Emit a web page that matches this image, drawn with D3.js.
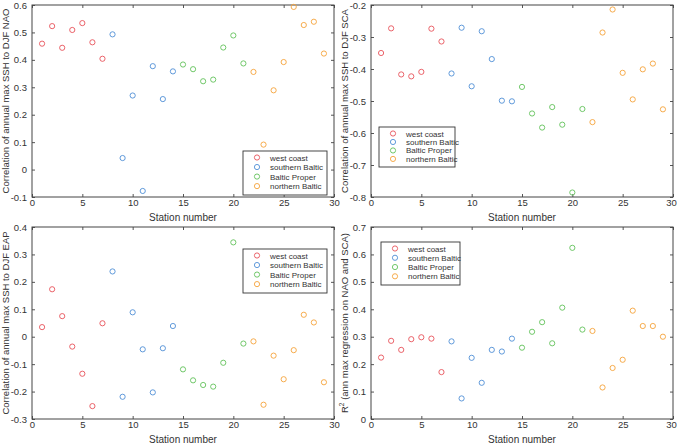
<!DOCTYPE html>
<html><head><meta charset="utf-8">
<script src="https://cdn.jsdelivr.net/npm/d3@7"></script>
<style>body{margin:0;background:#fff}svg{display:block}text{font-family:"Liberation Sans",Arial,sans-serif;fill:#333}</style>
</head><body><svg id="c" width="677" height="444"></svg>
<script>
const stations = d3.range(1, 30);
const groups = ["west coast", "southern Baltic", "Baltic Proper", "northern Baltic"];
const groupOf = [0,0,0,0,0,0,0,1,1,1,1,1,1,1,2,2,2,2,2,2,2,3,3,3,3,3,3,3,3];
const colors = ["#e8525a", "#4f8fd6", "#62c25a", "#f5a33a"];
const xTicks = [0,5,10,15,20,25,30];

const nao = [0.459,0.523,0.444,0.509,0.534,0.464,0.404,0.493,0.042,0.270,-0.078,0.377,0.257,0.358,0.383,0.366,0.322,0.328,0.445,0.489,0.387,0.356,0.091,0.289,0.392,0.593,0.527,0.539,0.423];
const sca = [-0.350,-0.273,-0.417,-0.423,-0.409,-0.274,-0.314,-0.414,-0.271,-0.454,-0.282,-0.369,-0.499,-0.501,-0.456,-0.539,-0.583,-0.519,-0.574,-0.786,-0.525,-0.566,-0.286,-0.214,-0.412,-0.495,-0.401,-0.383,-0.526];
const eap = [0.035,0.173,0.075,-0.036,-0.135,-0.253,0.049,0.238,-0.219,0.089,-0.046,-0.203,-0.042,0.039,-0.119,-0.159,-0.176,-0.182,-0.095,0.344,-0.025,-0.017,-0.248,-0.069,-0.155,-0.049,0.080,0.052,-0.166];
const r2 = [0.224,0.285,0.252,0.291,0.298,0.293,0.171,0.283,0.075,0.223,0.132,0.252,0.246,0.293,0.260,0.318,0.353,0.276,0.406,0.624,0.326,0.321,0.115,0.186,0.216,0.395,0.339,0.339,0.300];

const naoTicks = [-0.1,0,0.1,0.2,0.3,0.4,0.5,0.6];
const scaTicks = [-0.8,-0.7,-0.6,-0.5,-0.4,-0.3,-0.2];
const eapTicks = [-0.3,-0.2,-0.1,0,0.1,0.2,0.3,0.4];
const r2Ticks = [0,0.1,0.2,0.3,0.4,0.5,0.6,0.7];

const panels = [
  {vals:nao, ticks:naoTicks, dom:[-0.1,0.6], x0:32, x1:334, y0:5, y1:197, label:"Correlation of annual max SSH to DJF NAO", lx:8.5, leg:{x:243,y:151,w:84,h:44}},
  {vals:sca, ticks:scaTicks, dom:[-0.8,-0.2], x0:371, x1:673, y0:5, y1:197, label:"Correlation of annual max SSH to DJF SCA", lx:348, leg:{x:379,y:127,w:76,h:40}},
  {vals:eap, ticks:eapTicks, dom:[-0.3,0.4], x0:32, x1:334, y0:227, y1:419, label:"Correlation of annual max SSH to DJF EAP", lx:8.5, leg:{x:243,y:249,w:84,h:44}},
  {vals:r2, ticks:r2Ticks, dom:[0,0.7], x0:371, x1:673, y0:227, y1:419, label:null, lx:348, leg:{x:381,y:242,w:79,h:43}}
];

const svg = d3.select("#c");
const fmt = v => { const s = d3.format(".1f")(v).replace("\u2212","-"); return s === "0.0" || s === "-0.0" ? "0" : s; };

panels.forEach(p => {
  const x = d3.scaleLinear().domain([0,30]).range([p.x0,p.x1]);
  const y = d3.scaleLinear().domain(p.dom).range([p.y1,p.y0]);
  const g = svg.append("g");
  const axStyle = sel => { sel.select(".domain").remove(); sel.selectAll("line").attr("stroke","#555"); sel.selectAll("text").attr("fill","#333").style("font-size","9.5px"); };
  const xb = g.append("g").attr("transform",`translate(0,${p.y1})`).call(d3.axisBottom(x).tickValues(xTicks).tickSizeInner(-3).tickSizeOuter(0).tickPadding(2.5).tickFormat(d3.format("d"))).call(axStyle);
  if (p.x1 > 600) xb.selectAll(".tick text").filter(d => d === 30).attr("dx", -2);
  g.append("g").attr("transform",`translate(0,${p.y0})`).call(d3.axisTop(x).tickValues(xTicks).tickSizeInner(-3).tickSizeOuter(0).tickFormat("")).call(axStyle);
  g.append("g").attr("transform",`translate(${p.x0},0)`).call(d3.axisLeft(y).tickValues(p.ticks).tickSizeInner(-3).tickSizeOuter(0).tickPadding(5).tickFormat(fmt)).call(axStyle);
  g.append("g").attr("transform",`translate(${p.x1},0)`).call(d3.axisRight(y).tickValues(p.ticks).tickSizeInner(-3).tickSizeOuter(0).tickFormat("")).call(axStyle);
  g.append("rect").attr("x",p.x0).attr("y",p.y0).attr("width",p.x1-p.x0).attr("height",p.y1-p.y0).attr("fill","none").attr("stroke","#444").attr("stroke-width",1);

  g.selectAll("circle.pt").data(p.vals).join("circle").attr("class","pt")
    .attr("cx",(d,i)=>x(stations[i])).attr("cy",d=>y(d)).attr("r",2.6)
    .attr("fill","none").attr("stroke",(d,i)=>colors[groupOf[i]]).attr("stroke-width",0.9);

  g.append("text").attr("x",(p.x0+p.x1)/2).attr("y",p.y1+24).attr("text-anchor","middle").style("font-size","10px").text("Station number");

  const cy = (p.y0+p.y1)/2;
  const lt = g.append("text").attr("transform",`translate(${p.lx},${cy}) rotate(-90)`).attr("text-anchor","middle").style("font-size","9.5px");
  if (p.label) lt.text(p.label);
  else { lt.append("tspan").text("R"); lt.append("tspan").attr("dy",-4).style("font-size","6.5px").text("2"); lt.append("tspan").attr("dy",4).text(" (ann max regression on NAO and SCA)"); }

  const L = p.leg;
  g.append("rect").attr("x",L.x).attr("y",L.y).attr("width",L.w).attr("height",L.h).attr("fill","#fff").attr("stroke","#333").attr("stroke-width",0.9);
  const step = (L.h-8)/3.7;
  groups.forEach((gn,k) => {
    const yy = L.y + 6.5 + k*step*0.98;
    g.append("circle").attr("cx",L.x+14).attr("cy",yy).attr("r",2.6).attr("fill","none").attr("stroke",colors[k]).attr("stroke-width",0.9);
    g.append("text").attr("x",L.x+27).attr("y",yy+3).style("font-size","8px").text(gn);
  });
});
</script></body></html>
